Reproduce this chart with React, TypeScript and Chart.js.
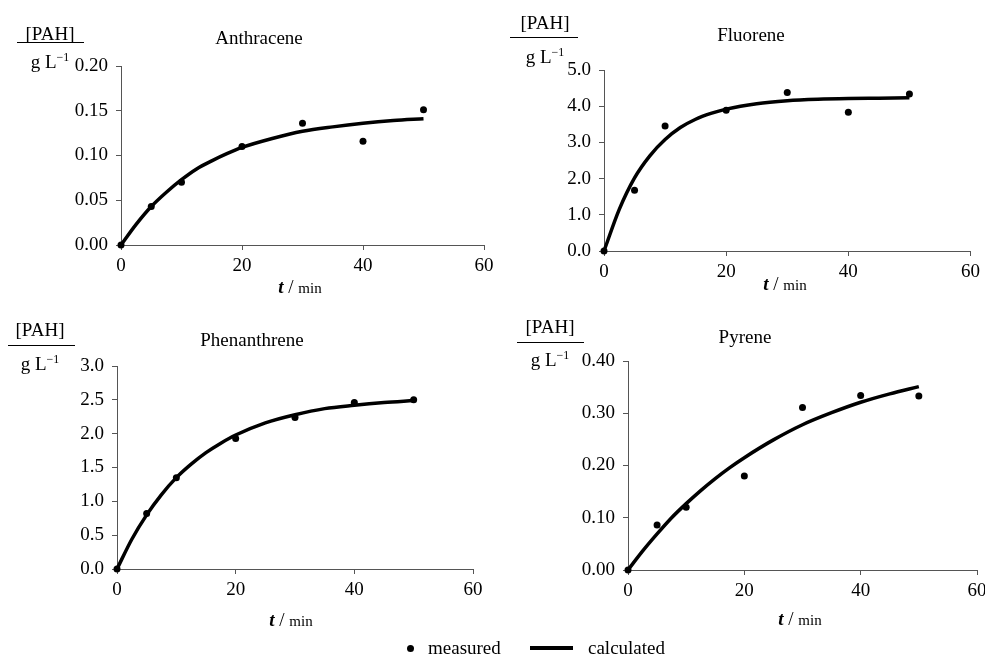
import React, { useEffect, useRef } from "react";
import { Chart, registerables } from "chart.js";
Chart.register(...registerables);

// ---------- data ----------
const timeMeasured = [0, 5, 10, 20, 30, 40, 50];
const timeCalculated = [0, 2.5, 5, 7.5, 10, 12.5, 15, 17.5, 20, 25, 30, 35, 40, 45, 50];

const anthraceneMeasured = [0, 0.043, 0.070, 0.110, 0.136, 0.116, 0.151];
const anthraceneCalculated = [0, 0.023, 0.043, 0.059, 0.073, 0.085, 0.094, 0.102, 0.109, 0.119, 0.127, 0.132, 0.136, 0.139, 0.141];

const fluoreneMeasured = [0, 1.68, 3.45, 3.89, 4.38, 3.83, 4.34];
const fluoreneCalculated = [0, 1.15, 2.02, 2.63, 3.08, 3.41, 3.64, 3.80, 3.92, 4.07, 4.15, 4.19, 4.21, 4.22, 4.23];

const phenanthreneMeasured = [0, 0.82, 1.35, 1.93, 2.24, 2.46, 2.50];
const phenanthreneCalculated = [0, 0.44, 0.80, 1.10, 1.35, 1.55, 1.72, 1.86, 1.98, 2.16, 2.28, 2.37, 2.42, 2.46, 2.49];

const pyreneMeasured = [0, 0.086, 0.120, 0.180, 0.311, 0.334, 0.333];
const pyreneCalculated = [0, 0.036, 0.069, 0.100, 0.127, 0.152, 0.175, 0.196, 0.215, 0.249, 0.278, 0.301, 0.321, 0.337, 0.351];

const xTickMin = 0;
const xTickMax = 60;
const xTickStep = 20;

const anthraceneYTicks = { min: 0, max: 0.2, step: 0.05, decimals: 2 };
const fluoreneYTicks = { min: 0, max: 5, step: 1, decimals: 1 };
const phenanthreneYTicks = { min: 0, max: 3, step: 0.5, decimals: 1 };
const pyreneYTicks = { min: 0, max: 0.4, step: 0.1, decimals: 2 };

const FONT = '"Liberation Serif", "Times New Roman", serif';

type Ticks = { min: number; max: number; step: number; decimals: number };

type PanelProps = {
  measured: number[];
  calculated: number[];
  yTicks: Ticks;
  canvas: { left: number; top: number; width: number; height: number };
  area: { left: number; right: number; top: number; bottom: number };
};

function Panel({ measured, calculated, yTicks, canvas, area }: PanelProps) {
  const ref = useRef<HTMLCanvasElement | null>(null);
  useEffect(() => {
    if (!ref.current) return;
    const yWidth = area.left - canvas.left;
    const xHeight = canvas.top + canvas.height - area.bottom;
    const chart = new Chart(ref.current, {
      type: "scatter",
      data: {
        datasets: [
          {
            label: "calculated",
            data: timeCalculated.map((t, i) => ({ x: t, y: calculated[i] })),
            showLine: true,
            borderColor: "#000",
            borderWidth: 3.5,
            pointRadius: 0,
            cubicInterpolationMode: "monotone",
            clip: false as any,
          },
          {
            label: "measured",
            data: timeMeasured.map((t, i) => ({ x: t, y: measured[i] })),
            showLine: false,
            backgroundColor: "#000",
            borderColor: "#000",
            borderWidth: 0,
            pointRadius: 3.5,
            clip: false as any,
          },
        ],
      },
      options: {
        animation: false,
        responsive: false,
        maintainAspectRatio: false,
        events: [],
        layout: {
          padding: {
            left: 0,
            top: area.top - canvas.top,
            right: canvas.left + canvas.width - area.right,
            bottom: 0,
          },
        },
        plugins: {
          legend: { display: false },
          title: { display: false },
          tooltip: { enabled: false },
        },
        scales: {
          x: {
            type: "linear",
            min: xTickMin,
            max: xTickMax,
            afterFit: (s: any) => {
              s.height = xHeight;
            },
            ticks: {
              stepSize: xTickStep,
              color: "#000",
              padding: 5,
              font: { family: FONT, size: 19 },
              maxRotation: 0,
            },
            grid: {
              drawOnChartArea: false,
              drawTicks: true,
              tickLength: 5,
              color: "#555",
            },
            border: { display: true, color: "#555", width: 1 },
          },
          y: {
            type: "linear",
            min: yTicks.min,
            max: yTicks.max,
            afterFit: (s: any) => {
              s.width = yWidth;
            },
            ticks: {
              stepSize: yTicks.step,
              color: "#000",
              padding: 8,
              font: { family: FONT, size: 19 },
              callback: (v: any) => Number(v).toFixed(yTicks.decimals),
            },
            grid: {
              drawOnChartArea: false,
              drawTicks: true,
              tickLength: 5,
              color: "#555",
            },
            border: { display: true, color: "#555", width: 1 },
          },
        },
      },
    });
    return () => chart.destroy();
  }, []);
  return (
    <canvas
      ref={ref}
      width={canvas.width}
      height={canvas.height}
      style={{
        position: "absolute",
        left: canvas.left,
        top: canvas.top,
        width: canvas.width,
        height: canvas.height,
      }}
    />
  );
}

function Text({ x, y, children, size = 19, anchor = "center" }: any) {
  return (
    <div
      style={{
        position: "absolute",
        left: x,
        top: y,
        transform: anchor === "center" ? "translate(-50%, -50%)" : "translate(0, -50%)",
        fontFamily: FONT,
        fontSize: size,
        lineHeight: 1,
        whiteSpace: "nowrap",
        color: "#000",
      }}
    >
      {children}
    </div>
  );
}

function YLabel({ cx, topY, lineY, bottomY, lineLeft, lineRight }: any) {
  return (
    <>
      <Text x={cx} y={topY}>[PAH]</Text>
      <div
        style={{
          position: "absolute",
          left: lineLeft,
          top: lineY,
          width: lineRight - lineLeft,
          height: 1,
          background: "#000",
        }}
      />
      <Text x={cx} y={bottomY}>
        g L<span style={{ fontSize: 12, position: "relative", top: -7 }}>−1</span>
      </Text>
    </>
  );
}

function XLabel({ x, y }: any) {
  return (
    <Text x={x} y={y}>
      <span style={{ fontStyle: "italic", fontWeight: "bold" }}>t</span> / <span style={{ fontSize: 15 }}>min</span>
    </Text>
  );
}

export default function App() {
  return (
    <div
      style={{
        position: "absolute",
        left: 0,
        top: 0,
        width: 985,
        height: 657,
        overflow: "hidden",
        background: "#fff",
      }}
    >
      <Panel
        measured={anthraceneMeasured}
        calculated={anthraceneCalculated}
        yTicks={anthraceneYTicks}
        canvas={{ left: 0, top: 0, width: 500, height: 300 }}
        area={{ left: 121, right: 484, top: 66, bottom: 245 }}
      />
      <Panel
        measured={fluoreneMeasured}
        calculated={fluoreneCalculated}
        yTicks={fluoreneYTicks}
        canvas={{ left: 500, top: 0, width: 485, height: 300 }}
        area={{ left: 604, right: 972, top: 70, bottom: 251 }}
      />
      <Panel
        measured={phenanthreneMeasured}
        calculated={phenanthreneCalculated}
        yTicks={phenanthreneYTicks}
        canvas={{ left: 0, top: 300, width: 500, height: 330 }}
        area={{ left: 117, right: 473, top: 366, bottom: 569 }}
      />
      <Panel
        measured={pyreneMeasured}
        calculated={pyreneCalculated}
        yTicks={pyreneYTicks}
        canvas={{ left: 500, top: 300, width: 500, height: 330 }}
        area={{ left: 628, right: 977, top: 361, bottom: 570 }}
      />

      {/* Panel 1 texts */}
      <YLabel cx={50} topY={33} lineY={42} bottomY={61} lineLeft={17} lineRight={84} />
      <Text x={259} y={37}>Anthracene</Text>
      <XLabel x={300} y={286} />

      {/* Panel 2 texts */}
      <YLabel cx={545} topY={22} lineY={37} bottomY={56} lineLeft={510} lineRight={578} />
      <Text x={751} y={34}>Fluorene</Text>
      <XLabel x={785} y={283} />

      {/* Panel 3 texts */}
      <YLabel cx={40} topY={329} lineY={345} bottomY={363} lineLeft={8} lineRight={75} />
      <Text x={252} y={339}>Phenanthrene</Text>
      <XLabel x={291} y={619} />

      {/* Panel 4 texts */}
      <YLabel cx={550} topY={326} lineY={342} bottomY={359} lineLeft={517} lineRight={584} />
      <Text x={745} y={336}>Pyrene</Text>
      <XLabel x={800} y={618} />

      {/* Legend */}
      <div
        style={{
          position: "absolute",
          left: 406.5,
          top: 644.5,
          width: 7,
          height: 7,
          borderRadius: "50%",
          background: "#000",
        }}
      />
      <Text x={428} y={647} anchor="left">measured</Text>
      <div
        style={{
          position: "absolute",
          left: 530,
          top: 646,
          width: 43,
          height: 4,
          background: "#000",
        }}
      />
      <Text x={588} y={647} anchor="left">calculated</Text>
    </div>
  );
}
